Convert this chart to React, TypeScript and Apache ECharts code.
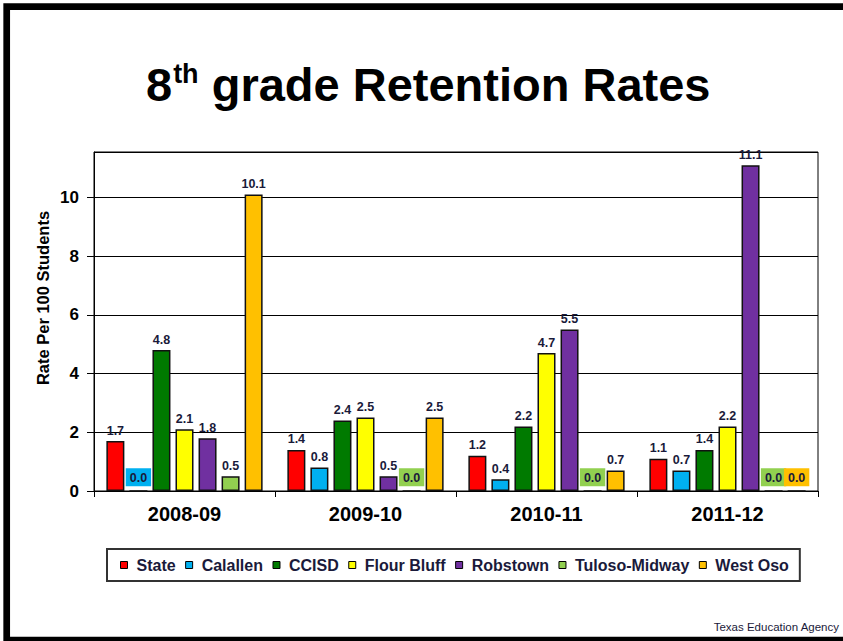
import React, { useEffect, useRef } from "react";
import * as echarts from "echarts";

const categories = ["2008-09", "2009-10", "2010-11", "2011-12"];
const seriesNames = ["State", "Calallen", "CCISD", "Flour Bluff", "Robstown", "Tuloso-Midway", "West Oso"];
const seriesColors = ["#FF0000", "#00B0F0", "#007A00", "#FFFF00", "#7030A0", "#92D050", "#FFC000"];
const stateValues = [1.7, 1.4, 1.2, 1.1];
const calallenValues = [0.0, 0.8, 0.4, 0.7];
const ccisdValues = [4.8, 2.4, 2.2, 1.4];
const flourBluffValues = [2.1, 2.5, 4.7, 2.2];
const robstownValues = [1.8, 0.5, 5.5, 11.1];
const tulosoValues = [0.5, 0.0, 0.0, 0.0];
const westOsoValues = [10.1, 2.5, 0.7, 0.0];
const allValues = [stateValues, calallenValues, ccisdValues, flourBluffValues, robstownValues, tulosoValues, westOsoValues];
const yTicks = { min: 0, max: 11.55, interval: 2 };

const FONT = "Liberation Sans, Arial, Helvetica, sans-serif";
const LABEL_COLOR = "#1a1a3a";

export default function App() {
  const ref = useRef<HTMLDivElement>(null);
  useEffect(() => {
    if (!ref.current) return;
    const chart = echarts.init(ref.current, null, { renderer: "svg" });
    const series = seriesNames.map((name, i) => ({
      name,
      type: "bar",
      barWidth: 18,
      barGap: "28%",
      itemStyle: { color: seriesColors[i], borderColor: "#111", borderWidth: 1.5 },
      label: {
        show: true,
        position: "top",
        distance: 4,
        fontFamily: FONT,
        fontWeight: "bold",
        fontSize: 12.5,
        color: LABEL_COLOR,
        formatter: (p: any) => Number(p.value).toFixed(1),
      },
      data: allValues[i].map((v) =>
        v === 0
          ? {
              value: v,
              label: {
                backgroundColor: seriesColors[i],
                padding: [3, 4, 2, 4],
                distance: 4,
              },
            }
          : { value: v }
      ),
    }));
    chart.setOption({
      animation: false,
      backgroundColor: "#fff",
      title: {
        text: "{n|8}{s|th}{n| grade Retention Rates}",
        left: 146,
        top: 58,
        padding: 0,
        textStyle: {
          rich: {
            n: { fontFamily: FONT, fontWeight: "bold", fontSize: 47, color: "#000", lineHeight: 50, verticalAlign: "bottom" },
            s: { fontFamily: FONT, fontWeight: "bold", fontSize: 27, color: "#000", verticalAlign: "top", padding: [2, 0, 0, 1] },
          },
        },
      },
      grid: { left: 94, right: 25, top: 152, bottom: 150, show: true, borderColor: "#000", borderWidth: 1 },
      xAxis: {
        type: "category",
        data: categories,
        axisLine: { lineStyle: { color: "#000", width: 1 } },
        axisTick: { show: true, length: 6, lineStyle: { color: "#000" } },
        axisLabel: { fontFamily: FONT, fontWeight: "bold", fontSize: 20, color: "#000", margin: 13 },
      },
      yAxis: {
        type: "value",
        min: yTicks.min,
        max: yTicks.max,
        interval: yTicks.interval,
        axisLine: { show: true, lineStyle: { color: "#000", width: 1 } },
        axisTick: { show: true, length: 7, lineStyle: { color: "#000" } },
        axisLabel: { fontFamily: FONT, fontWeight: "bold", fontSize: 17, color: "#000", margin: 15, showMaxLabel: false },
        splitLine: { show: true, lineStyle: { color: "#000", width: 1 } },
      },
      legend: {
        data: seriesNames,
        left: 107,
        top: 549,
        icon: "rect",
        itemWidth: 7,
        itemHeight: 7,
        itemGap: 9.5,
        padding: [8, 11, 8, 13],
        borderColor: "#333",
        borderWidth: 2,
        itemStyle: { borderColor: "#000", borderWidth: 1 },
        textStyle: { fontFamily: FONT, fontWeight: "bold", fontSize: 16, color: "#1a1a3a", padding: [0, 0, 0, 4] },
      },
      graphic: [
        {
          type: "rect",
          silent: true,
          shape: { x: 6.7, y: 6.7, width: 860, height: 633.3 },
          style: { fill: "none", stroke: "#000", lineWidth: 6.7 },
        },
        {
          type: "text",
          silent: true,
          x: 43,
          y: 298,
          rotation: Math.PI / 2,
          style: {
            text: "Rate Per 100 Students",
            fontFamily: FONT,
            fontWeight: "bold",
            fontSize: 16.5,
            fill: "#000",
            textAlign: "center",
            textVerticalAlign: "middle",
          },
        },
        {
          type: "text",
          silent: true,
          x: 839,
          y: 627,
          style: {
            text: "Texas Education Agency",
            fontFamily: FONT,
            fontSize: 11.5,
            fill: "#1a1a3a",
            textAlign: "right",
            textVerticalAlign: "middle",
          },
        },
      ],
      series,
    });
    return () => chart.dispose();
  }, []);
  return <div ref={ref} style={{ position: "fixed", left: 0, top: 0, width: 843, height: 641 }} />;
}
